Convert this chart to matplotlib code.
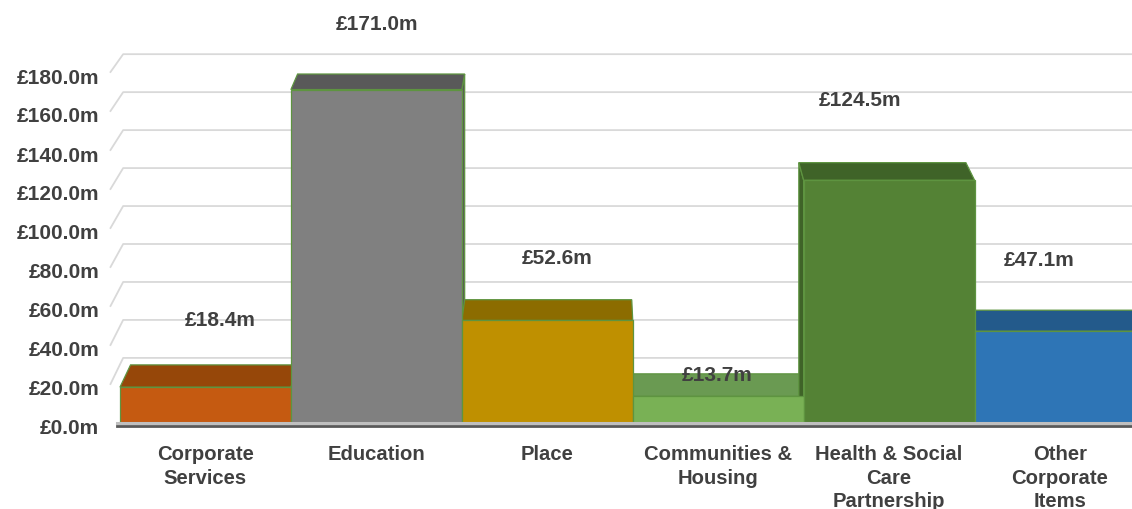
import matplotlib
matplotlib.use("Agg")
import matplotlib.pyplot as plt
from matplotlib.patches import Polygon, Rectangle
from matplotlib.lines import Line2D
from matplotlib.transforms import ScaledTranslation

plt.rcParams['font.family'] = ['Liberation Sans', 'DejaVu Sans']

# Datos del gráfico
categorias = ['Corporate\nServices', 'Education', 'Place', 'Communities &\nHousing',
              'Health & Social\nCare\nPartnership', 'Other\nCorporate\nItems']
valores = [18.4, 171.0, 52.6, 13.7, 124.5, 47.1]
etiquetas_valor = ['£18.4m', '£171.0m', '£52.6m', '£13.7m', '£124.5m', '£47.1m']
ticks_y = [0, 20, 40, 60, 80, 100, 120, 140, 160, 180]
etiquetas_y = ['£0.0m', '£20.0m', '£40.0m', '£60.0m', '£80.0m', '£100.0m',
               '£120.0m', '£140.0m', '£160.0m', '£180.0m']

# Estilo
colores_frente = ['#C55A11', '#808080', '#BF9000', '#79B155', '#548235', '#2E75B6']
colores_techo = ['#964709', '#595959', '#8C6C00', '#6A9A52', '#3F6328', '#235A8B']
color_borde = '#5E9440'
color_texto = '#404040'
# desplazamiento de cada etiqueta (puntos) respecto al borde superior de la barra
desp_etiquetas = [(10.8, 48.7), (0.4, 47.9), (7.2, 45.6), (-1.1, 15.7), (-20.9, 58.1), (-15.1, 51.8)]

# Perspectiva (punto de fuga en coordenadas de datos)
VP_X, VP_Y = 2.24, 525.0
F_BARRA = 0.0225
F_PARED = 0.0265


def atras(x, y, f):
    """Proyecta un punto del plano frontal hacia el fondo"""
    return x + f * (VP_X - x), y + f * (VP_Y - y)


fig = plt.figure(figsize=(11.32, 5.10), dpi=100)
ax = fig.add_axes([120 / 1132, 86 / 510, 1 - 120 / 1132, 424 / 510])
x_max = (1132 - 205) / 171
ax.set_xlim(-0.5, x_max)
ax.set_ylim(0, 424 / 1.95)
ax.patch.set_visible(False)
for s in ax.spines.values():
    s.set_visible(False)

# Líneas de cuadrícula en la pared del fondo
x_pared = (110 - 205) / 171
for v in ticks_y[1:]:
    xb, yb = atras(x_pared, v, F_PARED)
    ax.add_line(Line2D([x_pared, xb, x_max], [v, yb, yb], color='#D9D9D9', lw=1.3,
                       zorder=1, clip_on=False))

# Barras 3D
for i, v in enumerate(valores):
    x0, x1 = i - 0.5, i + 0.5
    if x1 < VP_X:
        lado = [(x1, 0), (x1, v), atras(x1, v, F_BARRA), atras(x1, 0, F_BARRA)]
    elif x0 > VP_X:
        lado = [(x0, 0), (x0, v), atras(x0, v, F_BARRA), atras(x0, 0, F_BARRA)]
    else:
        lado = None
    if lado:
        ax.add_patch(Polygon(lado, closed=True, facecolor=colores_techo[i], edgecolor=color_borde,
                             lw=0.9, zorder=2, clip_on=False))
    techo = [(x0, v), (x1, v), atras(x1, v, F_BARRA), atras(x0, v, F_BARRA)]
    ax.add_patch(Polygon(techo, closed=True, facecolor=colores_techo[i], edgecolor=color_borde,
                         lw=0.9, zorder=2, clip_on=False))
    ax.add_patch(Rectangle((x0, 0), 1, v, facecolor=colores_frente[i], edgecolor=color_borde,
                           lw=0.9, zorder=3, clip_on=False))
    dx, dy = desp_etiquetas[i]
    ax.annotate(etiquetas_valor[i], (i, v), xytext=(dx, dy), textcoords='offset points',
                ha='center', va='center', fontsize=15, fontweight='bold', color=color_texto,
                zorder=5)

# Suelo
ax.add_line(Line2D([-0.52, x_max], [0, 0], color='#BFBFBF', lw=2.2, zorder=4, clip_on=False))
ax.add_line(Line2D([-0.52, x_max], [-1.6, -1.6], color='#595959', lw=2.0, zorder=4, clip_on=False))

# Ejes
ax.set_yticks(ticks_y)
ax.set_yticklabels(etiquetas_y, fontsize=15, fontweight='bold', color=color_texto)
ax.tick_params(axis='y', length=0, pad=15)
desp = ScaledTranslation(0, -3 / 100, fig.dpi_scale_trans)
for lbl in ax.get_yticklabels():
    lbl.set_transform(lbl.get_transform() + desp)

ax.set_xticks(range(len(categorias)))
ax.set_xticklabels(categorias, fontsize=14.6, fontweight='bold', color=color_texto, linespacing=1.32)
ax.tick_params(axis='x', length=0, pad=15)

fig.savefig('out.png', dpi=100)
